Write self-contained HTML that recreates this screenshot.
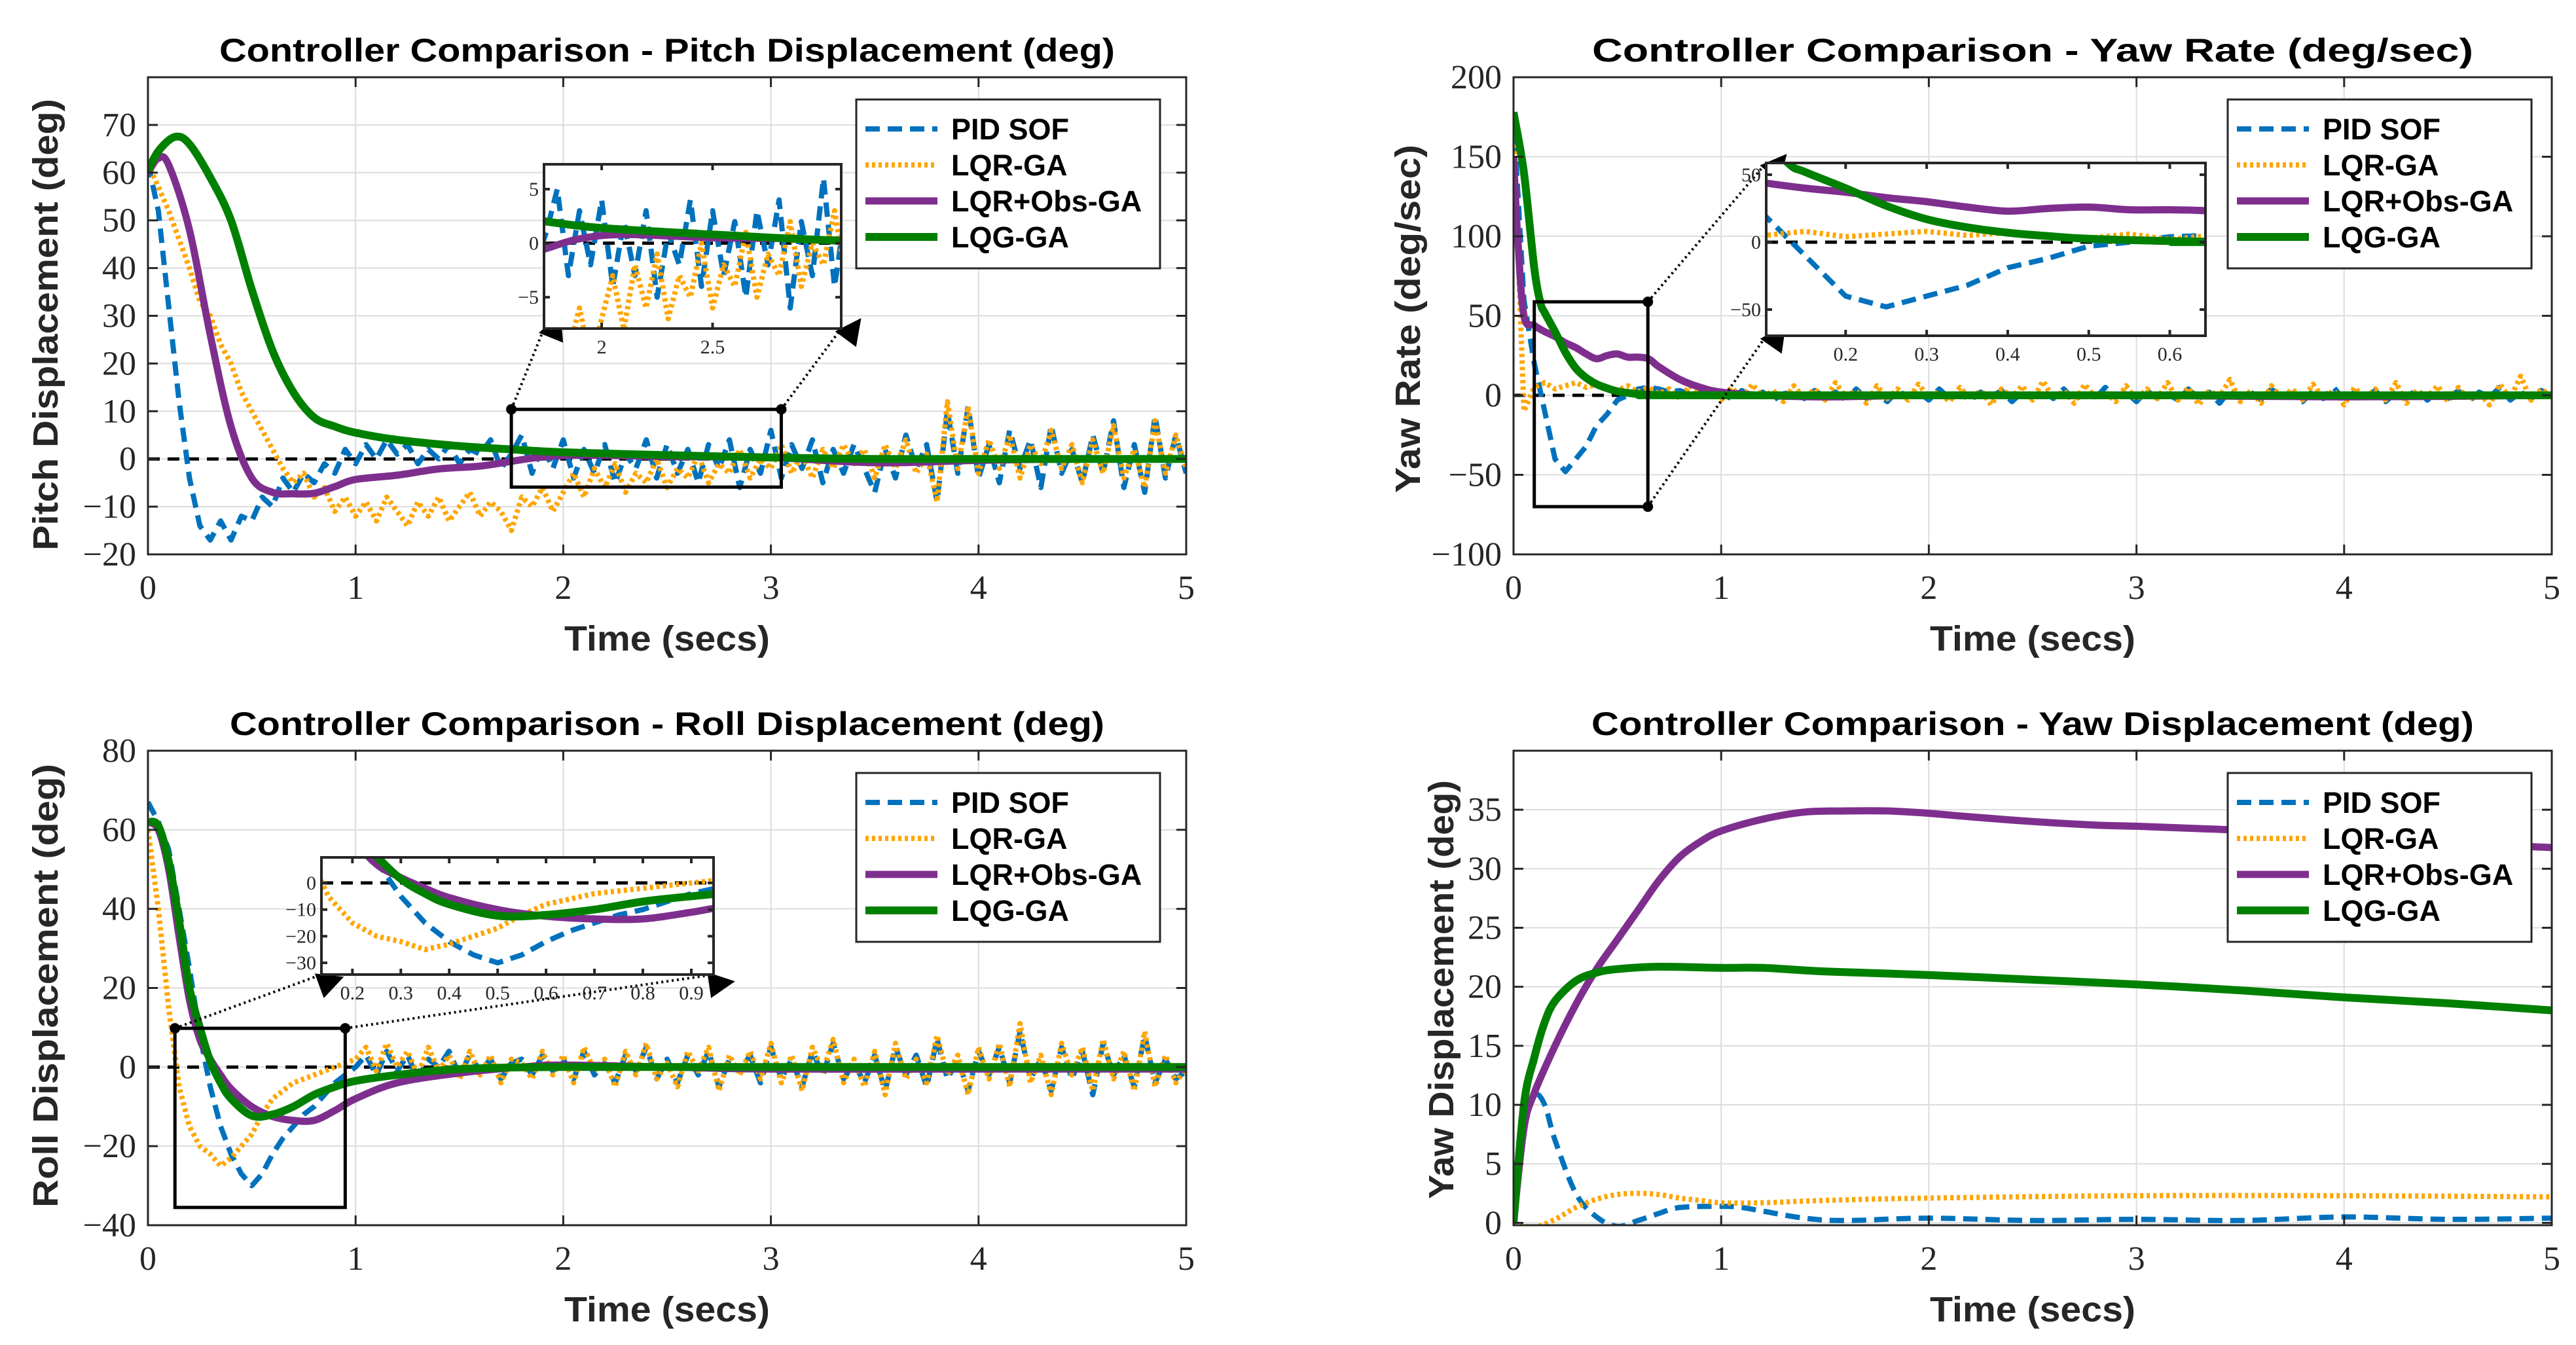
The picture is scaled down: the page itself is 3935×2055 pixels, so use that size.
<!DOCTYPE html>
<html><head><meta charset="utf-8"><title>Controller Comparison</title>
<style>html,body{margin:0;padding:0;background:#fff;}svg{display:block;}</style></head>
<body>
<svg id="fig" xmlns="http://www.w3.org/2000/svg" width="3935" height="2055" viewBox="0 0 3935 2055">
<defs>
<marker id="arrowhead" markerWidth="10" markerHeight="10" refX="9" refY="5" orient="auto" markerUnits="userSpaceOnUse" viewBox="0 0 10 10" style="overflow:visible">
<path d="M0,0 L10,5 L0,10 Z" transform="scale(4)" fill="#000"/>
</marker>
</defs>
<rect x="0" y="0" width="3935" height="2055" fill="#fff"/>
</svg>
<script>
// ---------- DATA ----------
const gridStep = 0.05;

// Pitch displacement (deg)
const pitchPID = [62,52,32,12,-4,-14,-17,-13,-17,-12,-13,-8,-10,-4,-7,-3,-5,-1,-3,2,-1,3,0,4,1,3,-1,2,0,3,-1,2,1,4,-2,1,5,-3,3,-2,4,-4,2,-3,3,-5,1,-2,4,-4,3,-3,2,-5,3,-2,4,-6,2,-3,6,-4,3,-2,4,-5,2,-3,3,-2,-7,2,-4,5,-2,3,-9,10,-3,11,-4,3,-5,6,-2,4,-6,7,-3,2,-5,5,-3,8,-6,3,-7,9,-4,5,-3];
const pitchLQR = [62,57,52,46,40,33,30,24,20,14,10,6,2,-2,-5,-3,-8,-6,-11,-8,-12,-9,-13,-8,-11,-14,-9,-12,-8,-13,-10,-7,-12,-9,-11,-15,-8,-10,-6,-11,-7,-3,-8,-2,-6,-1,-7,-3,-5,0,-6,-2,-4,1,-5,-1,-3,2,-4,0,-2,3,-3,1,-4,2,-2,3,-1,2,-4,3,-2,4,-3,1,-9,12,-2,11,-3,4,-2,5,-4,3,-1,6,-2,3,-5,4,-3,7,-4,2,-6,8,-3,5,-2];
const pitchObsT = [0,0.05,0.1,0.2,0.3,0.4,0.5,0.6,0.7,0.8,0.9,1,1.2,1.4,1.6,1.75,1.9,2.1,2.5,3,3.5,4,4.5,5];
const pitchObsV = [60,63,61.6,48,26,6.8,-4,-7,-7.3,-7.2,-5.8,-4.3,-3.4,-2.1,-1.5,-0.5,0.4,0.8,0.5,0.3,-0.8,-0.3,0,0];
const pitchLQGT = [0,0.05,0.13,0.2,0.3,0.4,0.5,0.6,0.7,0.8,0.9,1,1.2,1.5,1.75,2,2.5,3,3.5,4,5];
const pitchLQGV = [60.3,64.5,67.5,66,59,50,35.5,22.7,14,8.7,6.8,5.5,4,2.7,2,1.4,0.8,0.3,0,0,0];

// Yaw rate (deg/sec)
const yawRatePID = [175,60,20,-10,-40,-48,-40,-32,-19,-12,-3,0,4,5,4,2,3,1,2,-1,1,-2,3,-1,2,-3,1,2,-2,3,-1,2,-3,4,-2,1,-4,3,-1,2,-3,4,-2,1,-3,2,-1,3,-4,2,-1,3,-2,4,-3,1,-2,5,-1,2,-4,3,-2,1,-3,4,-2,2,-5,3,-1,2,-3,4,-2,1,-4,3,-2,5,-3,2,-1,3,-4,2,-2,4,-3,1,-2,3,-4,2,-1,5,-3,2,-2,3,-1];
const yawRateLQR = [170,-10,5,8,4,6,8,5,7,4,3,6,2,5,1,4,-2,6,0,3,-3,5,-2,7,-1,3,-4,6,-2,4,-3,8,-1,3,-5,6,-2,4,-3,7,-1,2,-4,5,-2,3,-6,4,-1,6,-3,9,-2,3,-5,7,-1,2,-4,6,-3,4,-2,8,-3,5,-6,3,-1,10,-4,3,-5,6,-2,4,-3,7,-2,3,-6,5,-2,4,-3,8,-5,3,-1,6,-4,5,-3,2,-6,7,-2,12,-3,4,-1];
const yawRateObsT = [0,0.02,0.05,0.1,0.15,0.2,0.25,0.3,0.35,0.4,0.45,0.5,0.55,0.6,0.65,0.7,0.8,0.9,1,1.2,1.5,2,3,4,5];
const yawRateObsV = [150,100,50,44,40,37,33,30,26,23,25,26,24,24,23,18,10,5,2,0,-1,0,0,-1,0];
const yawRateLQGT = [0,0.05,0.1,0.13,0.15,0.2,0.25,0.3,0.35,0.4,0.45,0.5,0.6,0.7,1,5];
const yawRateLQGV = [178,140,80,58,52,40,27,17,11,7,4.5,2.5,0.8,0.2,0,0];

// Roll displacement (deg)
const rollPID = [67,62,55,40,25,8,-5,-15,-22,-27,-30,-27,-22,-18,-15,-12,-10,-7,-4,-2,0,3,-2,4,-1,3,-3,2,0,4,-2,3,-1,2,-3,1,2,-2,3,-1,2,-3,4,-2,1,-4,3,-1,5,-3,2,-4,3,-2,4,-5,2,-1,3,-4,5,-3,2,-5,4,-2,6,-3,1,-4,3,-6,5,-2,3,-5,7,-3,2,-6,4,-2,5,-4,9,-3,2,-6,5,-3,4,-7,6,-2,3,-5,8,-4,2,-3,-1];
const rollLQR = [60,40,15,-5,-15,-20,-22,-25,-23,-20,-17,-12,-8,-6,-4,-3,-2,-1,0,1,2,5,-1,6,0,4,-2,5,-1,3,-3,4,-2,3,-4,2,1,-3,4,-2,3,-4,5,-1,2,-5,4,-2,6,-3,1,-5,4,-1,5,-6,3,-2,4,-3,6,-4,3,-6,5,-1,7,-4,2,-5,4,-7,6,-3,2,-4,8,-2,3,-7,5,-3,6,-5,11,-4,3,-7,6,-2,5,-6,7,-3,4,-6,9,-5,3,-4,0];
const rollObsT = [0,0.05,0.1,0.15,0.2,0.25,0.3,0.35,0.4,0.5,0.6,0.7,0.8,0.9,1,1.2,1.5,1.8,2,2.5,3,4,5];
const rollObsV = [62,60,50,33,17,7,2,-2,-5.5,-10,-12.5,-13.5,-13.5,-11,-8,-4,-1.5,0,0.5,0,-0.5,-0.5,-0.5];
const rollLQGT = [0,0.05,0.1,0.15,0.2,0.25,0.3,0.35,0.4,0.5,0.6,0.7,0.8,0.9,1,1.2,1.5,2,3,5];
const rollLQGV = [62,61,52,37,20,10,1.5,-4,-8,-12.3,-12,-10,-7,-5,-3.5,-2,-0.5,0,0,0];

// Yaw displacement (deg)
const yawPIDT = [0,0.05,0.1,0.15,0.2,0.3,0.4,0.5,0.6,0.7,0.8,1,1.1,1.2,1.4,1.6,2,2.5,3,3.5,4,4.5,5];
const yawPIDV = [0,8,10.8,10,7,2.5,0.5,-0.3,0.2,0.8,1.3,1.4,1.3,1,0.4,0.2,0.4,0.2,0.3,0.2,0.5,0.3,0.4];
const yawLQRT = [0,0.05,0.1,0.2,0.3,0.4,0.5,0.6,0.7,0.8,0.9,1,1.2,1.5,2,3,4,5];
const yawLQRV = [0,-0.2,-0.4,0.3,1.3,2,2.4,2.5,2.4,2.1,1.9,1.7,1.7,1.9,2.1,2.3,2.3,2.2];
const yawObsT = [0,0.05,0.1,0.2,0.3,0.4,0.5,0.6,0.7,0.8,0.9,1,1.2,1.4,1.6,1.8,2,2.2,2.5,2.8,3,3.3,3.6,4,4.5,5];
const yawObsV = [0,8,11,15,18.5,21.5,24,26.5,29,31,32.3,33.2,34.2,34.8,34.9,34.9,34.7,34.4,34,33.7,33.6,33.4,33.2,32.8,32.2,31.8];
const yawLQGT = [0,0.05,0.1,0.15,0.2,0.3,0.4,0.5,0.7,1,1.2,1.5,2,2.5,3,3.5,4,4.5,5];
const yawLQGV = [0,10,14,17,18.8,20.5,21.2,21.5,21.7,21.6,21.6,21.3,21,20.6,20.2,19.7,19.1,18.6,18];

// Tick labels
const xTicks = [0,1,2,3,4,5];
const pitchYTicks = [-20,-10,0,10,20,30,40,50,60,70];
const yawRateYTicks = [-100,-50,0,50,100,150,200];
const rollYTicks = [-40,-20,0,20,40,60,80];
const yawYTicks = [0,5,10,15,20,25,30,35];
const legendLabels = ['PID SOF','LQR-GA','LQR+Obs-GA','LQG-GA'];

// ---------- RENDERING ----------
const NS = 'http://www.w3.org/2000/svg';
const svg = document.getElementById('fig');
function el(tag, attrs, parent) {
  const e = document.createElementNS(NS, tag);
  for (const k in attrs) e.setAttribute(k, attrs[k]);
  parent.appendChild(e);
  return e;
}
function scale(d0, d1, r0, r1) { return v => r0 + (v - d0) * (r1 - r0) / (d1 - d0); }
function gridTimes(n) { const a = []; for (let i = 0; i < n; i++) a.push(i * gridStep); return a; }
function fmt(v) { return v < 0 ? '\u2212' + Math.abs(v) : String(v); }

const styles = [
  {stroke:'#0072BD', w:8, dash:'22 12'},
  {stroke:'#FFA500', w:8, dash:'5 5'},
  {stroke:'#7E2F8E', w:11, dash:''},
  {stroke:'#008000', w:12, dash:''}
];
const seriesNames = ['pid-sof','lqr-ga','lqr-obs-ga','lqg-ga'];

function pathD(ts, vs, sx, sy, smooth) {
  const pts = ts.map((t, i) => [sx(t), sy(vs[i])]);
  let d = 'M' + pts[0][0].toFixed(1) + ',' + pts[0][1].toFixed(1);
  for (let i = 0; i < pts.length - 1; i++) {
    const p1 = pts[i], p2 = pts[i + 1];
    if (!smooth) { d += ' L' + p2[0].toFixed(1) + ',' + p2[1].toFixed(1); continue; }
    const p0 = pts[i - 1] || p1, p3 = pts[i + 2] || p2;
    const c1 = [p1[0] + (p2[0] - p0[0]) / 6, p1[1] + (p2[1] - p0[1]) / 6];
    const c2 = [p2[0] - (p3[0] - p1[0]) / 6, p2[1] - (p3[1] - p1[1]) / 6];
    d += ' C' + c1[0].toFixed(1) + ',' + c1[1].toFixed(1) + ' ' + c2[0].toFixed(1) + ',' + c2[1].toFixed(1) + ' ' + p2[0].toFixed(1) + ',' + p2[1].toFixed(1);
  }
  return d;
}

let clipId = 0;
function drawSeries(parent, series, sx, sy, L, T, R, B, prefix, zeroLine) {
  clipId++;
  const cp = el('clipPath', {id:'clip' + clipId}, svg.querySelector('defs'));
  el('rect', {x:L, y:T, width:R - L, height:B - T}, cp);
  const g = el('g', {'clip-path':'url(#clip' + clipId + ')'}, parent);
  
  
  if (zeroLine) {
    const z = el('line', {x1:L, x2:R, y1:sy(0), y2:sy(0), stroke:'#000', 'stroke-width':5, 'stroke-dasharray':'18 12'}, g);
    
    
  }
  series.forEach((s, i) => {
    const st = styles[i];
    const p = el('path', {d:pathD(s.t, s.v, sx, sy, s.smooth), fill:'none', stroke:st.stroke, 'stroke-width':st.w, 'stroke-dasharray':st.dash, 'stroke-linejoin':'round'}, g);
    
    
  });
}

function drawPanel(cfg) {
  const g = el('g', {}, svg);
  
  
  const sx = scale(0, 5, cfg.L, cfg.R), sy = scale(cfg.ymin, cfg.ymax, cfg.B, cfg.T);
  const gg = el('g', {stroke:'#dcdcdc', 'stroke-width':2}, g);
  
  
  xTicks.forEach(t => { const l = el('line', {x1:sx(t), x2:sx(t), y1:cfg.T, y2:cfg.B}, gg);   });
  cfg.yticks.forEach(v => { const l = el('line', {x1:cfg.L, x2:cfg.R, y1:sy(v), y2:sy(v)}, gg);   });
  drawSeries(g, cfg.series, sx, sy, cfg.L, cfg.T, cfg.R, cfg.B, cfg.id, cfg.zero);
  const ax = el('g', {stroke:'#262626', 'stroke-width':3, fill:'none'}, g);
  
  
  el('rect', {x:cfg.L, y:cfg.T, width:cfg.R - cfg.L, height:cfg.B - cfg.T}, ax);
  xTicks.forEach(t => { el('line', {x1:sx(t), x2:sx(t), y1:cfg.B, y2:cfg.B - 15}, ax); el('line', {x1:sx(t), x2:sx(t), y1:cfg.T, y2:cfg.T + 15}, ax); });
  cfg.yticks.forEach(v => { el('line', {x1:cfg.L, x2:cfg.L + 15, y1:sy(v), y2:sy(v)}, ax); el('line', {x1:cfg.R, x2:cfg.R - 15, y1:sy(v), y2:sy(v)}, ax); });
  xTicks.forEach(t => {
    const tx = el('text', {x:sx(t), y:cfg.B + 68, 'text-anchor':'middle', 'font-family':'"Liberation Serif", serif', 'font-size':52, fill:'#262626'}, g);
    tx.textContent = fmt(t);
    
    
  });
  cfg.yticks.forEach(v => {
    const ty = el('text', {x:cfg.L - 18, y:sy(v) + 17, 'text-anchor':'end', 'font-family':'"Liberation Serif", serif', 'font-size':52, fill:'#262626'}, g);
    ty.textContent = fmt(v);
    
    
  });
  const ti = el('text', {x:(cfg.L + cfg.R) / 2, y:cfg.T - 24, 'text-anchor':'middle', 'font-family':'"Liberation Sans", sans-serif', 'font-weight':'bold', 'font-size':50, textLength:cfg.titleW, lengthAdjust:'spacingAndGlyphs'}, g);
  ti.textContent = cfg.title;
  
  
  const xl = el('text', {x:(cfg.L + cfg.R) / 2, y:cfg.B + 147, 'text-anchor':'middle', 'font-family':'"Liberation Sans", sans-serif', 'font-weight':'bold', 'font-size':54, fill:'#262626', textLength:314, lengthAdjust:'spacingAndGlyphs'}, g);
  xl.textContent = 'Time (secs)';
  
  
  const yl = el('text', {x:0, y:0, 'text-anchor':'middle', 'font-family':'"Liberation Sans", sans-serif', 'font-weight':'bold', 'font-size':54, fill:'#262626', textLength:cfg.ylabW, lengthAdjust:'spacingAndGlyphs', transform:'translate(' + cfg.ylabX + ',' + cfg.ylabY + ') rotate(-90)'}, g);
  yl.textContent = cfg.ylabel;
  
  

  if (cfg.inset) {
    const r = cfg.rect, ins = cfg.inset;
    const zr = el('rect', {x:sx(r.t0), y:sy(r.y1), width:sx(r.t1) - sx(r.t0), height:sy(r.y0) - sy(r.y1), fill:'none', stroke:'#000', 'stroke-width':5}, g);
    
    
    cfg.arrows.forEach(a => {
      const x1 = sx(a[0]), y1 = sy(a[1]);
      const ar = el('line', {x1:x1, y1:y1, x2:a[2], y2:a[3], stroke:'#000', 'stroke-width':4, 'stroke-dasharray':'3 5', 'marker-end':'url(#arrowhead)'}, g);
      
      
      const dt = el('circle', {cx:x1, cy:y1, r:8, fill:'#000'}, g);
      
      
    });
    const ig = el('g', {}, g);
    
    
    const bg = el('rect', {x:ins.L, y:ins.T, width:ins.R - ins.L, height:ins.B - ins.T, fill:'#fff'}, ig);
    
    
    const isx = scale(ins.xmin, ins.xmax, ins.L, ins.R), isy = scale(ins.ymin, ins.ymax, ins.B, ins.T);
    drawSeries(ig, cfg.series, isx, isy, ins.L, ins.T, ins.R, ins.B, cfg.id + '-inset', true);
    const ib = el('g', {stroke:'#262626', 'stroke-width':4, fill:'none'}, ig);
    
    
    el('rect', {x:ins.L, y:ins.T, width:ins.R - ins.L, height:ins.B - ins.T}, ib);
    ins.xticks.forEach(t => { el('line', {x1:isx(t), x2:isx(t), y1:ins.B, y2:ins.B - 9}, ib); el('line', {x1:isx(t), x2:isx(t), y1:ins.T, y2:ins.T + 9}, ib); });
    ins.yticks.forEach(v => { el('line', {x1:ins.L, x2:ins.L + 9, y1:isy(v), y2:isy(v)}, ib); el('line', {x1:ins.R, x2:ins.R - 9, y1:isy(v), y2:isy(v)}, ib); });
    ins.xticks.forEach(t => {
      const tx = el('text', {x:isx(t), y:ins.B + 38, 'text-anchor':'middle', 'font-family':'"Liberation Serif", serif', 'font-size':30, fill:'#262626'}, ig);
      tx.textContent = fmt(t);
      
      
    });
    ins.yticks.forEach(v => {
      const ty = el('text', {x:ins.L - 8, y:isy(v) + 10, 'text-anchor':'end', 'font-family':'"Liberation Serif", serif', 'font-size':30, fill:'#262626'}, ig);
      ty.textContent = fmt(v);
      
      
    });
  }

  const lg = el('g', {}, g);
  
  
  const lb = el('rect', {x:cfg.legX, y:cfg.legY, width:464, height:258, fill:'#fff', stroke:'#262626', 'stroke-width':3}, lg);
  
  
  legendLabels.forEach((lab, i) => {
    const cy = cfg.legY + 45 + i * 55;
    const st = styles[i];
    const ls = el('line', {x1:cfg.legX + 14, x2:cfg.legX + 124, y1:cy, y2:cy, stroke:st.stroke, 'stroke-width':st.w, 'stroke-dasharray':st.dash}, lg);
    
    
    const lt = el('text', {x:cfg.legX + 145, y:cy + 16, 'font-family':'"Liberation Sans", sans-serif', 'font-weight':'bold', 'font-size':45, fill:'#000'}, lg);
    lt.textContent = lab;
    
    
  });
}

drawPanel({
  id:'pitch', L:226, R:1812, T:118, B:847, ymin:-20, ymax:80, yticks:pitchYTicks, zero:true,
  title:'Controller Comparison - Pitch Displacement (deg)', titleW:1368,
  ylabel:'Pitch Displacement (deg)', ylabX:88, ylabY:496, ylabW:690,
  legX:1308, legY:152,
  series:[{t:gridTimes(pitchPID.length), v:pitchPID}, {t:gridTimes(pitchLQR.length), v:pitchLQR}, {t:pitchObsT, v:pitchObsV, smooth:true}, {t:pitchLQGT, v:pitchLQGV, smooth:true}],
  rect:{t0:1.75, t1:3.05, y0:-5.9, y1:10.4},
  inset:{L:831, R:1285, T:251, B:502, xmin:1.74, xmax:3.08, ymin:-7.9, ymax:7.3, xticks:[2,2.5], yticks:[-5,0,5]},
  arrows:[[1.75,10.4,831,502],[3.05,10.4,1285,502]]
});
drawPanel({
  id:'yaw-rate', L:2312, R:3898, T:118, B:847, ymin:-100, ymax:200, yticks:yawRateYTicks, zero:true,
  title:'Controller Comparison - Yaw Rate (deg/sec)', titleW:1346,
  ylabel:'Yaw Rate (deg/sec)', ylabX:2169, ylabY:487, ylabW:532,
  legX:3403, legY:152,
  series:[{t:gridTimes(yawRatePID.length), v:yawRatePID}, {t:gridTimes(yawRateLQR.length), v:yawRateLQR}, {t:yawRateObsT, v:yawRateObsV, smooth:true}, {t:yawRateLQGT, v:yawRateLQGV, smooth:true}],
  rect:{t0:0.1, t1:0.647, y0:-70, y1:58.8},
  inset:{L:2698, R:3369, T:249, B:513, xmin:0.102, xmax:0.644, ymin:-69.4, ymax:58.7, xticks:[0.2,0.3,0.4,0.5,0.6], yticks:[-50,0,50]},
  arrows:[[0.647,58.8,2698,249],[0.647,-70,2698,513]]
});
drawPanel({
  id:'roll', L:226, R:1812, T:1147, B:1872, ymin:-40, ymax:80, yticks:rollYTicks, zero:true,
  title:'Controller Comparison - Roll Displacement (deg)', titleW:1336,
  ylabel:'Roll Displacement (deg)', ylabX:88, ylabY:1506, ylabW:678,
  legX:1308, legY:1181,
  series:[{t:gridTimes(rollPID.length), v:rollPID}, {t:gridTimes(rollLQR.length), v:rollLQR}, {t:rollObsT, v:rollObsV, smooth:true}, {t:rollLQGT, v:rollLQGV, smooth:true}],
  rect:{t0:0.13, t1:0.95, y0:-35.5, y1:9.8},
  inset:{L:491, R:1090, T:1310, B:1489, xmin:0.136, xmax:0.946, ymin:-34.4, ymax:9.6, xticks:[0.2,0.3,0.4,0.5,0.6,0.7,0.8,0.9], yticks:[-30,-20,-10,0]},
  arrows:[[0.13,9.8,491,1489],[0.95,9.8,1090,1489]]
});
drawPanel({
  id:'yaw', L:2312, R:3898, T:1147, B:1872, ymin:-0.2, ymax:40, yticks:yawYTicks, zero:false,
  title:'Controller Comparison - Yaw Displacement (deg)', titleW:1348,
  ylabel:'Yaw Displacement (deg)', ylabX:2220, ylabY:1512, ylabW:640,
  legX:3403, legY:1181,
  series:[{t:yawPIDT, v:yawPIDV, smooth:true}, {t:yawLQRT, v:yawLQRV, smooth:true}, {t:yawObsT, v:yawObsV, smooth:true}, {t:yawLQGT, v:yawLQGV, smooth:true}]
});
</script>
</body></html>
